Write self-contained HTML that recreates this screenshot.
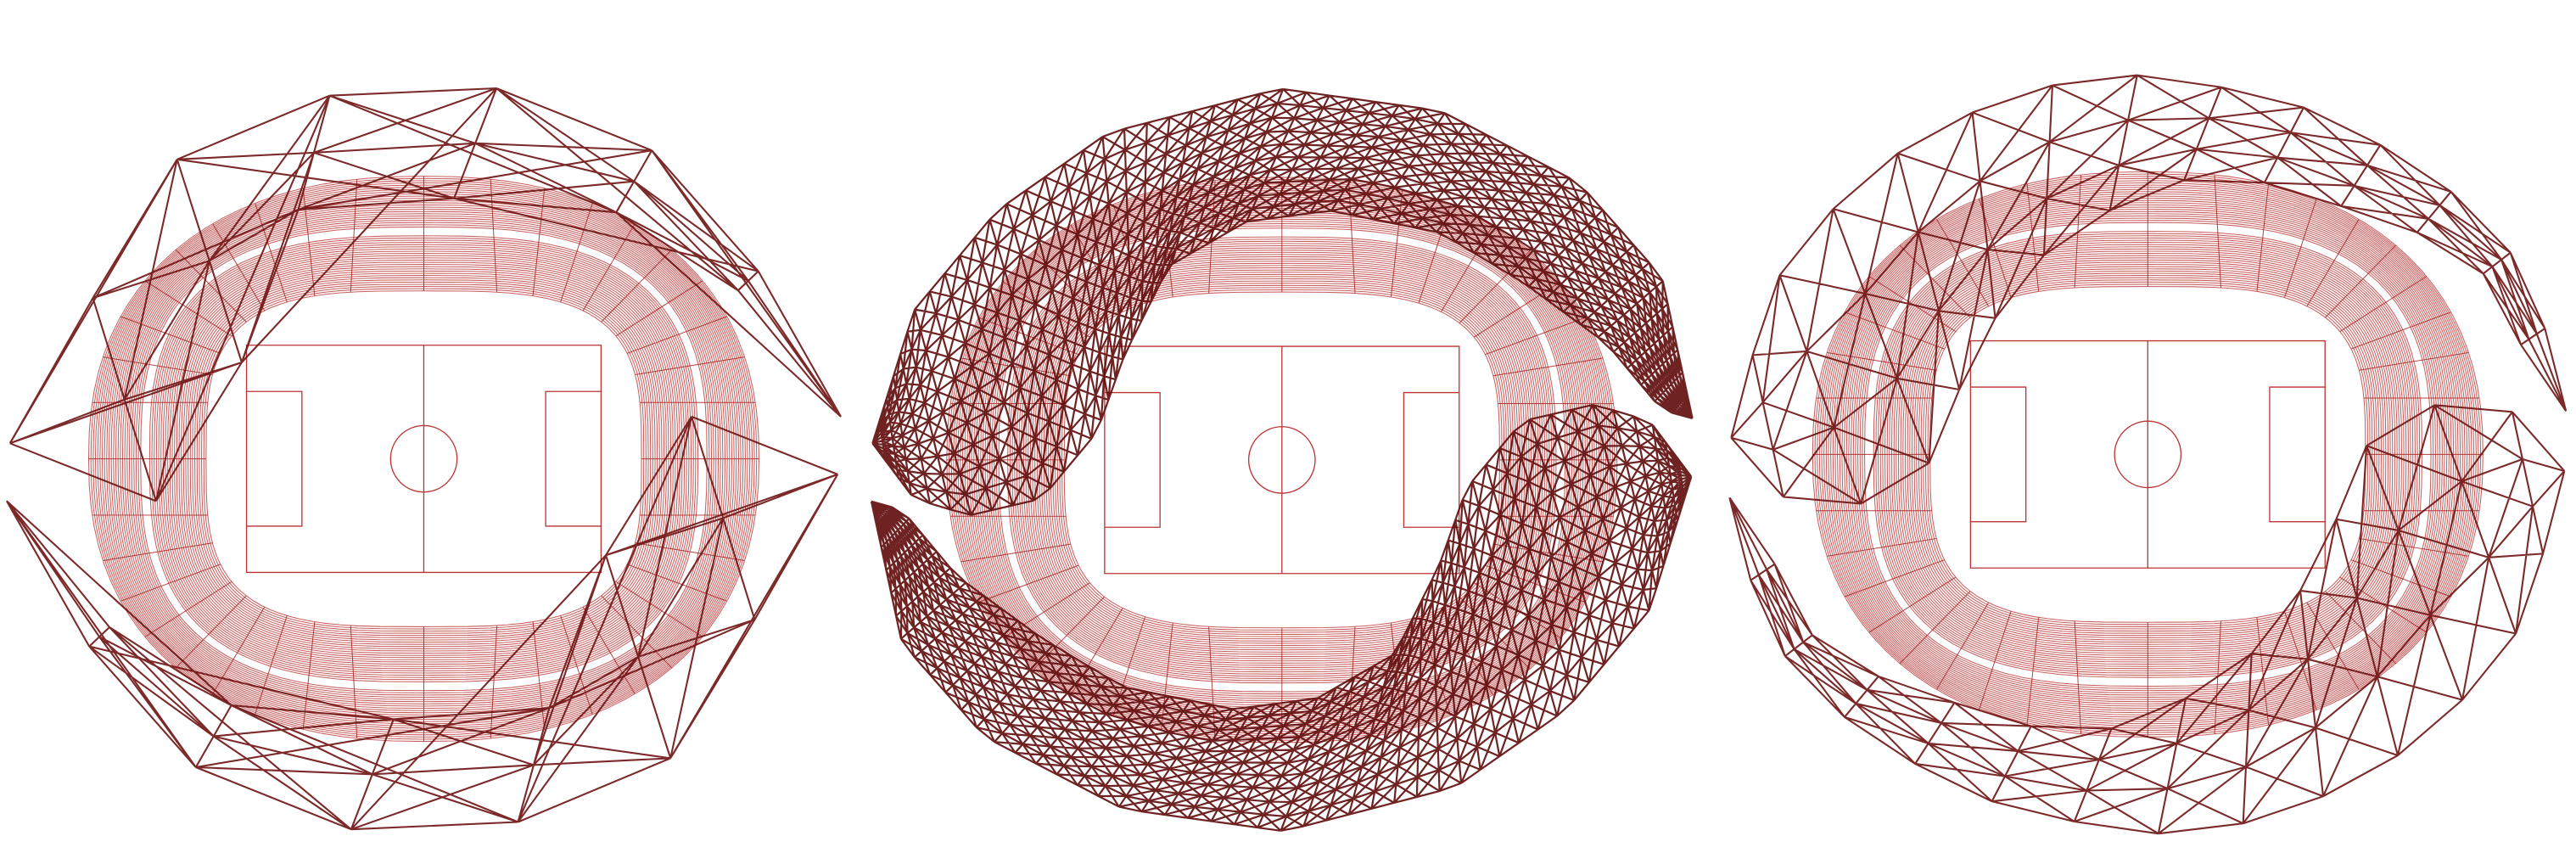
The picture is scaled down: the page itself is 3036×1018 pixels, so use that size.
<!DOCTYPE html>
<html><head><meta charset="utf-8"><style>
html,body{margin:0;padding:0;background:#fff;}
svg{display:block;}
</style></head><body>
<svg id="chart" width="3036" height="1018" viewBox="0 0 3036 1018" xmlns="http://www.w3.org/2000/svg">
<rect width="3036" height="1018" fill="#fff"/>
</svg>
<script>
// Panel data (coordinates in reference zoom units, scale k to pixels)
const panelOffsets = [0, 1012, 2024];
const panelCenters = [[765,828],[764,830],[777,820]];
const standInner = [393, 303];
const standOuter = [605, 510];
const fieldHalf = [320, 205];
const boxSize = [100, 243];
const circleR = 60;
// upper roof arm edges per panel (lower arm = 180° rotation about center)
const arm1Outer = [[18,800],[175,525],[275,310],[545,175],[893,158],[1248,300],[1355,465],[1518,752]];
const arm1Inner = [[18,800],[275,915],[445,640],[545,360],[710,355],[893,360],[1048,380],[1248,390],[1355,560],[1518,752]];
const arm2Outer = [[25,800],[100,560],[250,380],[450,240],[760,160],[1050,200],[1300,330],[1450,500],[1505,755]];
const arm2Inner = [[25,800],[100,900],[200,930],[330,900],[430,780],[480,640],[560,480],[700,400],[850,380],[1050,420],[1200,510],[1350,620],[1450,740],[1505,755]];
const arm3Outer = [[25,790],[95,520],[185,400],[290,300],[390,235],[555,160],[780,133],[1030,180],[1265,295],[1370,385],[1470,500],[1532,742]];
const arm3Inner = [[25,790],[100,890],[185,920],[285,905],[390,830],[460,640],[555,490],[660,400],[840,325],[1000,330],[1150,380],[1265,420],[1370,470],[1460,640],[1532,742]];
const armSegments = [7, 50, 14];
const armLayers = [2, 10, 3];

const k = 1012/1550;
const NS = 'http://www.w3.org/2000/svg';
const svg = document.getElementById('chart');

function resample(pts, n){
  const d=[0];
  for(let i=1;i<pts.length;i++){d.push(d[i-1]+Math.hypot(pts[i][0]-pts[i-1][0],pts[i][1]-pts[i-1][1]));}
  const L=d[d.length-1], out=[];
  for(let s=0;s<=n;s++){
    const t=L*s/n; let i=1; while(i<d.length-1 && d[i]<t) i++;
    const f=(t-d[i-1])/((d[i]-d[i-1])||1);
    out.push([pts[i-1][0]+(pts[i][0]-pts[i-1][0])*f, pts[i-1][1]+(pts[i][1]-pts[i-1][1])*f]);
  }
  return out;
}
function sp(t,p){const c=Math.cos(t), sn=Math.sin(t);return [Math.sign(c)*Math.pow(Math.abs(c),2/p), Math.sign(sn)*Math.pow(Math.abs(sn),2/p)];}
function superPath(cx,cy,rx,ry,p){
  let s='';
  for(let a=0;a<=96;a++){
    const e=sp(a/96*2*Math.PI,p);
    s+=(a?'L':'M')+(cx+rx*e[0]).toFixed(1)+' '+(cy+ry*e[1]).toFixed(1);
  }
  return s+'Z';
}

const armsOuter=[arm1Outer,arm2Outer,arm3Outer], armsInner=[arm1Inner,arm2Inner,arm3Inner];

panelOffsets.forEach((ox,pi)=>{
  const g=document.createElementNS(NS,'g');
  g.setAttribute('transform','translate('+ox+',0) scale('+k+')');
  
  
  svg.appendChild(g);
  const [cx,cy]=panelCenters[pi];

  const st=document.createElementNS(NS,'g');
  
  
  g.appendChild(st);
  let d='';
  const rows=52;
  const pIn=3.4, pOut=2.3;
  for(let r=0;r<=rows;r++){
    const f=r/rows;
    if(f>0.49&&f<0.55) continue;
    d+=superPath(cx,cy,standInner[0]+(standOuter[0]-standInner[0])*f, standInner[1]+(standOuter[1]-standInner[1])*f, pIn+(pOut-pIn)*f);
  }
  const rowsP=document.createElementNS(NS,'path');
  rowsP.setAttribute('d',d);rowsP.setAttribute('fill','none');rowsP.setAttribute('stroke','#b52a2a');rowsP.setAttribute('stroke-opacity','0.75');rowsP.setAttribute('stroke-width','1.6');
  
  
  st.appendChild(rowsP);
  let rd='';
  for(let a=0;a<40;a++){
    const t=a/40*2*Math.PI;
    const ei=sp(t,pIn), eo=sp(t,pOut);
    rd+='M'+(cx+standInner[0]*ei[0]).toFixed(1)+' '+(cy+standInner[1]*ei[1]).toFixed(1)+'L'+(cx+standOuter[0]*eo[0]).toFixed(1)+' '+(cy+standOuter[1]*eo[1]).toFixed(1);
  }
  const radP=document.createElementNS(NS,'path');
  radP.setAttribute('d',rd);radP.setAttribute('fill','none');radP.setAttribute('stroke','#a51f1f');radP.setAttribute('stroke-opacity','0.85');radP.setAttribute('stroke-width','1.5');
  
  
  st.appendChild(radP);

  const fx0=cx-fieldHalf[0], fx1=cx+fieldHalf[0], fy0=cy-fieldHalf[1], fy1=cy+fieldHalf[1];
  const fd='M'+fx0+' '+fy0+'H'+fx1+'V'+fy1+'H'+fx0+'Z M'+cx+' '+fy0+'V'+fy1+
    ' M'+fx0+' '+(cy-boxSize[1]/2)+'H'+(fx0+boxSize[0])+'V'+(cy+boxSize[1]/2)+'H'+fx0+
    ' M'+fx1+' '+(cy-boxSize[1]/2)+'H'+(fx1-boxSize[0])+'V'+(cy+boxSize[1]/2)+'H'+fx1;
  const field=document.createElementNS(NS,'path');
  field.setAttribute('d',fd);field.setAttribute('fill','none');field.setAttribute('stroke','#b33');field.setAttribute('stroke-width','2');
  
  
  g.appendChild(field);
  const circ=document.createElementNS(NS,'circle');
  circ.setAttribute('cx',cx);circ.setAttribute('cy',cy);circ.setAttribute('r',circleR);circ.setAttribute('fill','none');circ.setAttribute('stroke','#b33');circ.setAttribute('stroke-width','2');
  
  
  g.appendChild(circ);

  [0,1].forEach(side=>{
    const rot=p=>side?[2*cx-p[0],2*cy-p[1]]:p;
    const N=armSegments[pi], K=armLayers[pi];
    const O=resample(armsOuter[pi].map(rot),N), I=resample(armsInner[pi].map(rot),N);
    const P=(i,j)=>[O[i][0]+(I[i][0]-O[i][0])*j/K, O[i][1]+(I[i][1]-O[i][1])*j/K];
    let ad='';
    const seg=(a,b)=>{ad+='M'+a[0].toFixed(1)+' '+a[1].toFixed(1)+'L'+b[0].toFixed(1)+' '+b[1].toFixed(1);};
    for(let i=0;i<=N;i++){
      seg(P(i,0),P(i,K));
      if(i<N){
        for(let j=0;j<=K;j++) seg(P(i,j),P(i+1,j));
        for(let j=0;j<K;j++){ seg(P(i,j),P(i+1,j+1)); seg(P(i+1,j),P(i,j+1)); }
      }
    }
    if(pi===0){
      for(let i=0;i+2<=N;i++){ seg(P(i,0),P(i+2,K)); seg(P(i,K),P(i+2,0)); }
    }
    const arm=document.createElementNS(NS,'path');
    arm.setAttribute('d',ad);arm.setAttribute('fill','none');arm.setAttribute('stroke',pi===1?'#5e0a0a':'#6e1212');
    arm.setAttribute('stroke-opacity','0.9');arm.setAttribute('stroke-width',pi===1?'3.4':'3.2');
    arm.setAttribute('stroke-linejoin','round');
    
    
    g.appendChild(arm);
  });
});
</script>
</body></html>
